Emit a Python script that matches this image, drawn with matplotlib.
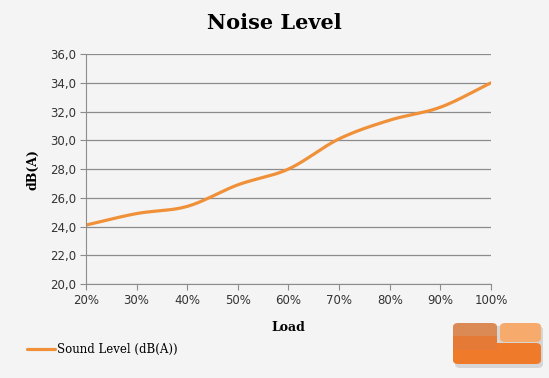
import numpy as np
import matplotlib.pyplot as plt
from matplotlib.patches import FancyBboxPatch

load = [20, 30, 40, 50, 60, 70, 80, 90, 100]
sound_level = [24.1, 24.9, 25.4, 26.9, 28.0, 30.1, 31.4, 32.3, 34.0]
y_ticks = [20, 22, 24, 26, 28, 30, 32, 34, 36]


def smooth(x, y, n=30):
    # Catmull-Rom style smoothing, like the spreadsheet's smoothed line
    x = np.asarray(x, float)
    y = np.asarray(y, float)
    px = np.concatenate([[2 * x[0] - x[1]], x, [2 * x[-1] - x[-2]]])
    py = np.concatenate([[2 * y[0] - y[1]], y, [2 * y[-1] - y[-2]]])
    xs, ys = [], []
    t = np.linspace(0, 1, n)
    for i in range(1, len(px) - 2):
        for p, out in ((px, xs), (py, ys)):
            p0, p1, p2, p3 = p[i - 1], p[i], p[i + 1], p[i + 2]
            out.extend(0.5 * (2 * p1 + (-p0 + p2) * t
                              + (2 * p0 - 5 * p1 + 4 * p2 - p3) * t ** 2
                              + (-p0 + 3 * p1 - 3 * p2 + p3) * t ** 3))
    return np.array(xs), np.array(ys)


bg = '#f4f4f4'
orange = '#f0913a'

fig = plt.figure(figsize=(5.49, 3.78), dpi=100, facecolor=bg)
ax = fig.add_axes([0.1566, 0.2487, 0.7378, 0.6083], facecolor=bg)

sx, sy = smooth(load, sound_level)
line, = ax.plot(sx, sy, color=orange, lw=2.3, solid_capstyle='round')

ax.set_xlim(20, 100)
ax.set_ylim(20, 36)
ax.set_xticks(load)
ax.set_xticklabels([f'{v}%' for v in load])
ax.set_yticks(y_ticks)
ax.set_yticklabels([f'{v:.1f}'.replace('.', ',') for v in y_ticks])
ax.grid(axis='y', color='#8c8c8c', lw=0.9)
ax.set_axisbelow(True)
for s in ['top', 'right']:
    ax.spines[s].set_visible(False)
for s in ['left', 'bottom']:
    ax.spines[s].set_color('#8c8c8c')
ax.tick_params(direction='out', length=4, color='#8c8c8c',
               labelsize=8.5, labelcolor='#333333', pad=3)
for lab in ax.get_xticklabels() + ax.get_yticklabels():
    lab.set_family('DejaVu Sans')

ax.set_xlabel('Load', family='DejaVu Serif', weight='bold', fontsize=9, labelpad=10)
ax.set_ylabel('dB(A)', family='DejaVu Serif', weight='bold', fontsize=9, labelpad=8)
fig.text(0.5, 0.94, 'Noise Level', ha='center', va='center',
         family='DejaVu Serif', weight='bold', fontsize=15)

fig.legend([line], ['Sound Level (dB(A))'], loc='center left',
           bbox_to_anchor=(0.03, 0.075), frameon=False, handlelength=2.4,
           handletextpad=0.1, prop={'family': 'DejaVu Serif', 'size': 8.5})

# logo in the lower right corner
W, H = 549, 378
def box(x0, y0, x1, y1, color, r=0.01):
    p = FancyBboxPatch((x0 / W, 1 - y1 / H), (x1 - x0) / W, (y1 - y0) / H,
                       boxstyle=f'round,pad=0,rounding_size={r}',
                       transform=fig.transFigure, fc=color, ec='none')
    fig.patches.append(p)

box(455, 326, 543, 368, '#d6d6d6')               # shadow
box(453, 343, 541, 364, '#ee7a2a')
box(453, 323, 497, 350, '#dc8a55')
box(453, 336, 497, 350, '#e47a35', r=0.002)
box(500, 323, 541, 342, '#f6aa6c')

fig.savefig('out.png', dpi=100, facecolor=bg)
